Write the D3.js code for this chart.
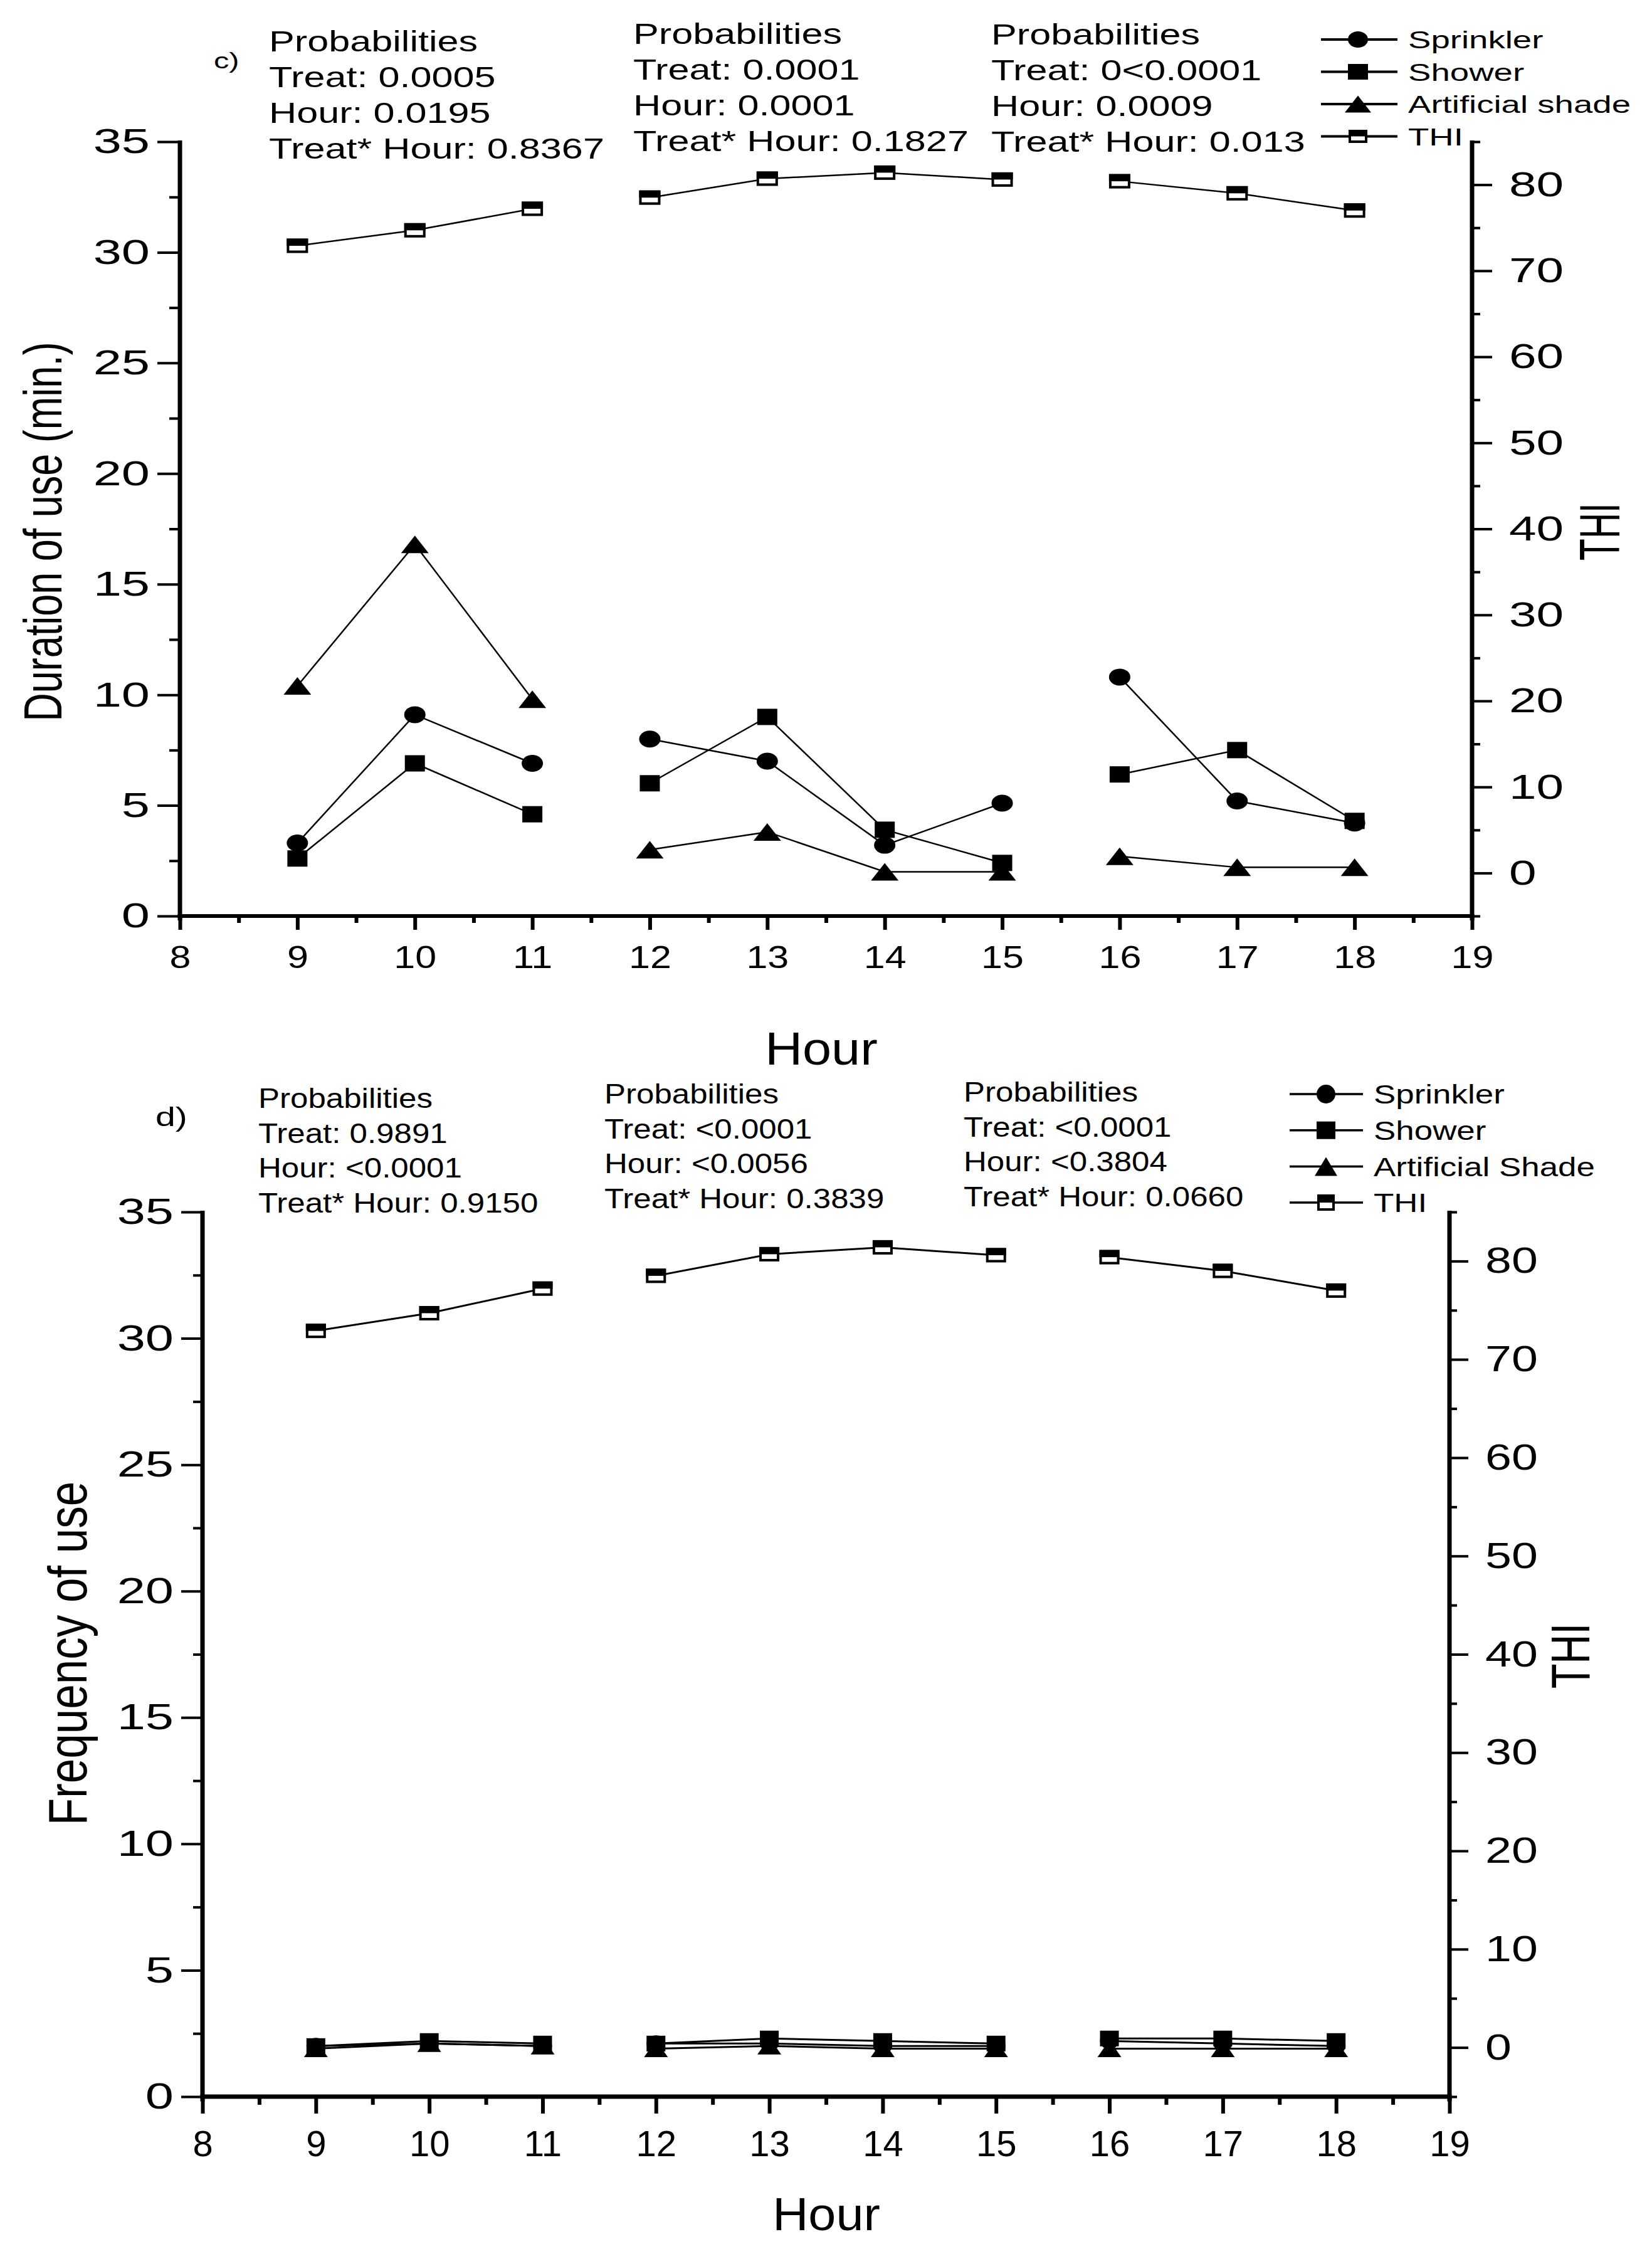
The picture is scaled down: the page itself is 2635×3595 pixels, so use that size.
<!DOCTYPE html>
<html><head><meta charset="utf-8">
<script src="https://cdn.jsdelivr.net/npm/d3@7"></script>
<style>html,body{margin:0;padding:0;background:#fff;} svg{display:block;background:#fff;}</style>
</head><body>
<svg id="chart" width="2635" height="3595"></svg>
<script>
// ---------------- DATA ----------------
const hours = [9, 10, 11, 12, 13, 14, 15, 16, 17, 18];
const sessionStarts = [9, 12, 16];           // lines break between sessions
const hourTicks = [8, 9, 10, 11, 12, 13, 14, 15, 16, 17, 18, 19];
const leftTicks = [0, 5, 10, 15, 20, 25, 30, 35];
const thiTicks = [0, 10, 20, 30, 40, 50, 60, 70, 80];
const seriesNames = ["Sprinkler", "Shower", "Artificial shade", "THI"];
const seriesNamesD = ["Sprinkler", "Shower", "Artificial Shade", "THI"];

// panel c) duration of use (min.)
const sprinklerDuration = [3.3, 9.1, 6.9, 8.0, 7.0, 3.2, 5.1, 10.8, 5.2, 4.2];
const showerDuration    = [2.6, 6.9, 4.6, 6.0, 9.0, 3.9, 2.4, 6.4, 7.5, 4.3];
const shadeDuration     = [10.4, 16.8, 9.8, 3.0, 3.8, 2.0, 2.0, 2.7, 2.2, 2.2];
// panel d) frequency of use
const sprinklerFrequency = [2.0, 2.1, 2.0, 2.1, 2.1, 2.0, 2.0, 2.2, 2.1, 2.0];
const showerFrequency    = [2.0, 2.2, 2.1, 2.1, 2.3, 2.2, 2.1, 2.3, 2.3, 2.2];
const shadeFrequency     = [1.9, 2.1, 2.0, 1.9, 2.0, 1.9, 1.9, 1.9, 1.9, 1.9];
// THI (right axis), both panels
const thiValues = [72.9, 74.7, 77.2, 78.5, 80.7, 81.4, 80.6, 80.4, 79.0, 77.0];

const probC = [
  ["Probabilities", "Treat: 0.0005", "Hour: 0.0195", "Treat* Hour: 0.8367"],
  ["Probabilities", "Treat: 0.0001", "Hour: 0.0001", "Treat* Hour: 0.1827"],
  ["Probabilities", "Treat: 0<0.0001", "Hour: 0.0009", "Treat* Hour: 0.013"]
];
const probD = [
  ["Probabilities", "Treat: 0.9891", "Hour: <0.0001", "Treat* Hour: 0.9150"],
  ["Probabilities", "Treat: <0.0001", "Hour: <0.0056", "Treat* Hour: 0.3839"],
  ["Probabilities", "Treat: <0.0001", "Hour: <0.3804", "Treat* Hour: 0.0660"]
];

// ---------------- DRAWING ----------------
const FONT = "'Liberation Sans', Arial, Helvetica, sans-serif";
const svg = d3.select("#chart");

function stext(g, x, y, str, o) {
  const t = g.append("text")
    .attr("transform", `translate(${x},${y}) scale(${o.sx || 1},1)` + (o.rot ? ` rotate(${o.rot})` : ""))
    .attr("font-family", FONT).attr("font-size", o.size)
    .attr("text-anchor", o.anchor || "start").attr("fill", "#000")
    .text(str);
  if (o.ls) t.attr("letter-spacing", o.ls);
  return t;
}

function marker(g, type, cx, cy, w, h) {
  if (type === "circle") {
    g.append("ellipse").attr("cx", cx).attr("cy", cy).attr("rx", w / 2).attr("ry", h / 2).attr("fill", "#000");
  } else if (type === "square") {
    g.append("rect").attr("x", cx - w / 2).attr("y", cy - h / 2).attr("width", w).attr("height", h).attr("fill", "#000");
  } else if (type === "triangle") {
    g.append("path").attr("d", `M${cx},${cy - h / 2}L${cx + w / 2},${cy + h / 2}L${cx - w / 2},${cy + h / 2}Z`).attr("fill", "#000");
  } else if (type === "half") {
    g.append("rect").attr("x", cx - w / 2 + 2).attr("y", cy - h / 2 + 2).attr("width", w - 4).attr("height", h - 4)
      .attr("fill", "#fff").attr("stroke", "#000").attr("stroke-width", 4);
    g.append("rect").attr("x", cx - w / 2).attr("y", cy - h / 2).attr("width", w).attr("height", h / 2).attr("fill", "#000");
  }
}

function drawPanel(P) {
  const g = svg.append("g");
  const x = d3.scaleLinear().domain([8, 19]).range([P.x0, P.x1]);
  const yL = d3.scaleLinear().domain([0, 35]).range([P.yB, P.yT]);
  const yR = d3.scaleLinear().domain([-5, 85]).range([P.yB, P.yT]);

  // ---- axes ----
  const styleAxis = (ag, sw) => {
    ag.select(".domain").remove();
    ag.selectAll("line").attr("stroke", "#000").attr("stroke-width", sw);
    ag.attr("font-family", FONT);
  };
  // bottom
  const bMinor = g.append("g").attr("transform", `translate(0,${P.yB})`)
    .call(d3.axisBottom(x).tickValues(d3.range(8.5, 19, 1)).tickSize(P.xMinor).tickFormat(""));
  styleAxis(bMinor, P.xTickW);
  const bMajor = g.append("g").attr("transform", `translate(0,${P.yB})`)
    .call(d3.axisBottom(x).tickValues(hourTicks).tickSize(P.xMajor).tickPadding(P.xPad).tickFormat(d3.format("d")));
  styleAxis(bMajor, P.xTickW);
  bMajor.selectAll("text").attr("font-size", P.xFont).attr("fill", "#000")
    .attr("transform", `scale(${P.xSx},1)`);

  // left
  const lMinor = g.append("g").attr("transform", `translate(${P.x0},0)`)
    .call(d3.axisLeft(yL).tickValues(d3.range(2.5, 35, 5)).tickSize(P.lMinor).tickFormat(""));
  styleAxis(lMinor, P.yTickW);
  const lMajor = g.append("g").attr("transform", `translate(${P.x0},0)`)
    .call(d3.axisLeft(yL).tickValues(leftTicks).tickSize(P.lMajor).tickPadding(P.lPad).tickFormat(d3.format("d")));
  styleAxis(lMajor, P.yTickW);
  lMajor.selectAll("text").attr("font-size", P.yFont).attr("fill", "#000")
    .attr("x", -(P.lMajor + P.lPad) / P.lSx).attr("transform", `scale(${P.lSx},1)`);

  // right
  const rMinor = g.append("g").attr("transform", `translate(${P.x1},0)`)
    .call(d3.axisRight(yR).tickValues(d3.range(-5, 86, 10)).tickSize(P.rMinor).tickFormat(""));
  styleAxis(rMinor, P.yTickW);
  const rMajor = g.append("g").attr("transform", `translate(${P.x1},0)`)
    .call(d3.axisRight(yR).tickValues(thiTicks).tickSize(P.rMajor).tickPadding(P.rPad).tickFormat(d3.format("d")));
  styleAxis(rMajor, P.yTickW);
  rMajor.selectAll("text").attr("font-size", P.yFont).attr("fill", "#000")
    .attr("x", (P.rMajor + P.rPad) / P.rSx).attr("transform", `scale(${P.rSx},1)`);

  // axis lines
  g.append("line").attr("x1", P.x0 - P.vW / 2).attr("x2", P.x1 + P.vW / 2).attr("y1", P.yB).attr("y2", P.yB)
    .attr("stroke", "#000").attr("stroke-width", P.hW);
  g.append("line").attr("x1", P.x0).attr("x2", P.x0).attr("y1", P.yT - 2).attr("y2", P.yB + P.hW / 2 + 4)
    .attr("stroke", "#000").attr("stroke-width", P.vW);
  g.append("line").attr("x1", P.x1).attr("x2", P.x1).attr("y1", P.yT - 2).attr("y2", P.yB + P.hW / 2 + 4)
    .attr("stroke", "#000").attr("stroke-width", P.vW);

  // ---- series ----
  const session = h => d3.bisectRight(sessionStarts, h) - 1;
  P.series.forEach(s => {
    const scale = s.axis === "right" ? yR : yL;
    const pts = hours.map((h, i) => ({ h, v: s.values[i] }));
    const groups = d3.groups(pts, d => session(d.h));
    const line = d3.line().x(d => x(d.h)).y(d => scale(d.v));
    groups.forEach(([, arr]) => {
      g.append("path").attr("d", line(arr)).attr("fill", "none").attr("stroke", "#000").attr("stroke-width", P.lineW);
    });
  });
  P.series.forEach(s => {
    const scale = s.axis === "right" ? yR : yL;
    const m = P.markers[s.type];
    hours.forEach((h, i) => marker(g, s.type, x(h), scale(s.values[i]), m[0], m[1]));
  });

  // ---- titles ----
  stext(g, P.xt.x, P.xt.y, "Hour", { size: P.xt.size, sx: P.xt.sx, anchor: "middle" });
  stext(g, P.ylt.x, P.ylt.y, P.yLabel, { size: P.ylt.size, sx: P.ylt.sx, anchor: "middle", rot: -90 });
  stext(g, P.yrt.x, P.yrt.y, "THI", { size: P.yrt.size, sx: P.yrt.sx, anchor: "middle", rot: -90 });

  // ---- panel letter & probabilities ----
  stext(g, P.letter.x, P.letter.y, P.letter.t, { size: P.letter.size, sx: P.letter.sx });
  P.prob.forEach((block, bi) => {
    block.forEach((line, li) => {
      stext(g, P.probPos[bi][0], P.probPos[bi][1] + li * P.probLH, line, { size: P.probFont, sx: P.probSx });
    });
  });

  // ---- legend ----
  P.series.forEach((s, i) => {
    const cy = P.leg.y0 + i * P.leg.dy;
    g.append("line").attr("x1", P.leg.x1).attr("x2", P.leg.x2).attr("y1", cy).attr("y2", cy)
      .attr("stroke", "#000").attr("stroke-width", P.leg.lw);
    const m = P.leg.markers[s.type];
    marker(g, s.type, P.leg.mx, cy, m[0], m[1]);
    stext(g, P.leg.tx, cy + P.leg.size * 0.36, P.legNames[i], { size: P.leg.size, sx: P.leg.sx });
  });
}

// panel c
drawPanel({
  x0: 287, x1: 2348, yT: 226, yB: 1461,
  xMinor: 11, xMajor: 22, xPad: 48 - 22, xTickW: 6, xFont: 50, xSx: 1.22,
  lMinor: 17, lMajor: 36, lPad: 12, rMinor: 13, rMajor: 32, rPad: 27, yTickW: 4, yFont: 56, lSx: 1.45, rSx: 1.4,
  vW: 7, hW: 6, lineW: 2.5,
  yLabel: "Duration of use (min.)",
  series: [
    { type: "circle", values: sprinklerDuration, axis: "left" },
    { type: "square", values: showerDuration, axis: "left" },
    { type: "triangle", values: shadeDuration, axis: "left" },
    { type: "half", values: thiValues, axis: "right" }
  ],
  markers: { circle: [34, 27], square: [32, 26], triangle: [44, 28], half: [34, 23] },
  xt: { x: 1310, y: 1698, size: 74, sx: 1.12 },
  ylt: { x: 98, y: 848, size: 63, sx: 1.35 },
  yrt: { x: 2583, y: 848, size: 57, sx: 1.6 },
  letter: { x: 341, y: 109, t: "c)", size: 36, sx: 1.35 },
  prob: probC, probPos: [[429, 82], [1010, 70], [1581, 71]], probLH: 57, probFont: 46, probSx: 1.33,
  legNames: seriesNames,
  leg: { y0: 63, dy: 51.5, x1: 2107, x2: 2229, mx: 2166, tx: 2246, lw: 4, size: 39, sx: 1.4,
         markers: { circle: [32, 26], square: [32, 25], triangle: [42, 27], half: [30, 21] } }
});

// panel d
drawPanel({
  x0: 323, x1: 2312, yT: 1933, yB: 3344,
  xMinor: 13, xMajor: 27, xPad: 54 - 27, xTickW: 6, xFont: 58, xSx: 1.0,
  lMinor: 15, lMajor: 34, lPad: 12, rMinor: 12, rMajor: 30, rPad: 27, yTickW: 4, yFont: 58, lSx: 1.4, rSx: 1.3,
  vW: 7, hW: 7, lineW: 3,
  yLabel: "Frequency of use",
  series: [
    { type: "circle", values: sprinklerFrequency, axis: "left" },
    { type: "square", values: showerFrequency, axis: "left" },
    { type: "triangle", values: shadeFrequency, axis: "left" },
    { type: "half", values: thiValues, axis: "right" }
  ],
  markers: { circle: [30, 26], square: [30, 25], triangle: [38, 27], half: [32, 23] },
  xt: { x: 1318, y: 3557, size: 74, sx: 1.07 },
  ylt: { x: 138, y: 2637, size: 71, sx: 1.24 },
  yrt: { x: 2535, y: 2641, size: 65, sx: 1.33 },
  letter: { x: 248, y: 1796, t: "d)", size: 43, sx: 1.33 },
  prob: probD, probPos: [[412, 1767], [964, 1760], [1537, 1757]], probLH: 55.5, probFont: 44, probSx: 1.16,
  legNames: seriesNamesD,
  leg: { y0: 1745, dy: 57.7, x1: 2057, x2: 2174, mx: 2115, tx: 2191, lw: 3.5, size: 42, sx: 1.26,
         markers: { circle: [30, 30], square: [30, 28], triangle: [36, 30], half: [28, 26] } }
});
</script>
</body></html>
